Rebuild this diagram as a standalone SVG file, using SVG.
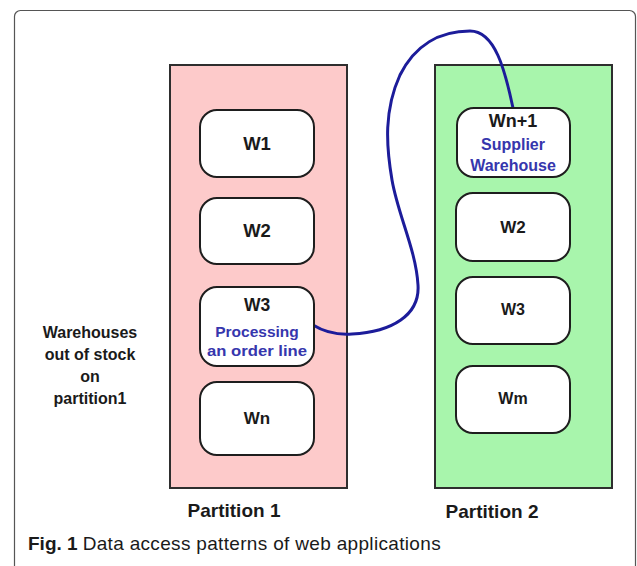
<svg xmlns="http://www.w3.org/2000/svg" width="637" height="566" viewBox="0 0 637 566">
  <style>
    .frame { fill: none; stroke: #555; stroke-width: 1.2; }
    .part { stroke: #2e2e2e; stroke-width: 2; }
    .p1 { fill: #fdcaca; }
    .p2 { fill: #a8f5ac; }
    .wh { fill: #ffffff; stroke: #1e1e1e; stroke-width: 2; }
    text { font-family: "Liberation Sans", Arial, sans-serif; text-anchor: middle; }
    .lbl { font-weight: bold; fill: #1a1a1a; }
    .blue { font-weight: bold; fill: #3636ad; }
    .cap { text-anchor: start; fill: #1a1a1a; font-size: 19px; }
    .link { fill: none; stroke: #1c1c9a; stroke-width: 3; stroke-linecap: round; }
  </style>

  <!-- figure frame -->
  <rect class="frame" x="14.5" y="10.5" width="621" height="600" rx="6"/>

  <!-- partitions -->
  <g id="partition1">
    <rect class="part p1" x="170" y="65" width="177" height="423"/>
    <text class="lbl" x="234" y="517" font-size="19">Partition 1</text>
  </g>
  <g id="partition2">
    <rect class="part p2" x="435" y="65" width="177" height="423"/>
    <text class="lbl" x="492" y="518" font-size="19">Partition 2</text>
  </g>

  <!-- side note -->
  <g id="note" class="lbl" font-size="16">
    <text x="90" y="338">Warehouses</text>
    <text x="90" y="360">out of stock</text>
    <text x="90" y="382">on</text>
    <text x="90" y="404">partition1</text>
  </g>

  <!-- connector between the processing warehouse and the supplier -->
  <g id="connectors">
    <path class="link" d="M313,325 C326,333 338,335 352,334 C392,332 420,315 418,285 C416,250 398,215 392,180 C386,145 384,110 400,75 C415,45 440,31 470,31 C495,31 505,70 513,108"/>
  </g>

  <!-- partition 1 warehouses -->
  <g id="p1-w1">
    <rect class="wh" x="200" y="110" width="114" height="67" rx="17"/>
    <text class="lbl" x="257" y="150" font-size="18.5">W1</text>
  </g>
  <g id="p1-w2">
    <rect class="wh" x="200" y="198" width="114" height="66" rx="17"/>
    <text class="lbl" x="257" y="237" font-size="18.5">W2</text>
  </g>
  <g id="p1-w3">
    <rect class="wh" x="200" y="287" width="114" height="79" rx="17"/>
    <text class="lbl" x="257" y="311" font-size="17.5">W3</text>
    <text class="blue" x="257" y="337" font-size="15.5">Processing</text>
    <text class="blue" x="257" y="356" font-size="15.5" textLength="100" lengthAdjust="spacingAndGlyphs">an order line</text>
  </g>
  <g id="p1-wn">
    <rect class="wh" x="200" y="382" width="114" height="73" rx="17"/>
    <text class="lbl" x="257" y="424" font-size="17">Wn</text>
  </g>

  <!-- partition 2 warehouses -->
  <g id="p2-wn1">
    <rect class="wh" x="457" y="108" width="113" height="69" rx="17"/>
    <text class="lbl" x="513" y="127" font-size="18">Wn+1</text>
    <text class="blue" x="513" y="150" font-size="16">Supplier</text>
    <text class="blue" x="513" y="171" font-size="16">Warehouse</text>
  </g>
  <g id="p2-w2">
    <rect class="wh" x="456" y="193" width="114" height="68" rx="17"/>
    <text class="lbl" x="513" y="233" font-size="17">W2</text>
  </g>
  <g id="p2-w3">
    <rect class="wh" x="456" y="277" width="114" height="67" rx="17"/>
    <text class="lbl" x="513" y="315" font-size="16">W3</text>
  </g>
  <g id="p2-wm">
    <rect class="wh" x="456" y="366" width="114" height="67" rx="17"/>
    <text class="lbl" x="513" y="404" font-size="16">Wm</text>
  </g>

  <!-- caption -->
  <g id="caption">
    <text class="cap" x="28" y="550"><tspan font-weight="bold">Fig. 1</tspan><tspan dx="5" textLength="358" lengthAdjust="spacing">Data access patterns of web applications</tspan></text>
  </g>
</svg>
